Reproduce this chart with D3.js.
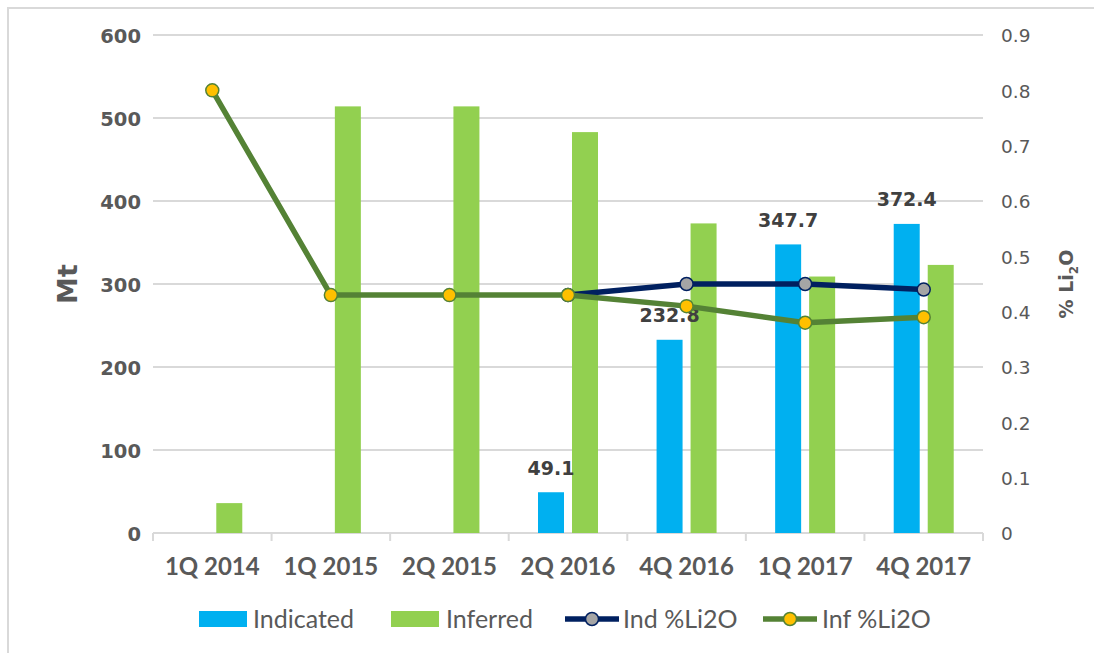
<!DOCTYPE html>
<html><head><meta charset="utf-8">
<script src="https://cdn.jsdelivr.net/npm/d3@7"></script>
<style>body{margin:0;background:#fff}svg{display:block}</style></head>
<body>
<svg id="c" width="1094" height="653"></svg>
<script>
const categories = ["1Q 2014","1Q 2015","2Q 2015","2Q 2016","4Q 2016","1Q 2017","4Q 2017"];
const indicated = [null, null, null, 49.1, 232.8, 347.7, 372.4];
const inferred = [36, 514, 514, 483, 373, 309, 323];
const indLi2O = [null, null, null, 0.43, 0.45, 0.45, 0.44];
const infLi2O = [0.80, 0.43, 0.43, 0.43, 0.41, 0.38, 0.39];
const leftTicks = [0, 100, 200, 300, 400, 500, 600];
const rightTicks = [0, 0.1, 0.2, 0.3, 0.4, 0.5, 0.6, 0.7, 0.8, 0.9];
const rightTickLabels = ["0", "0.1", "0.2", "0.3", "0.4", "0.5", "0.6", "0.7", "0.8", "0.9"];
const legendLabels = ["Indicated", "Inferred", "Ind %Li2O", "Inf %Li2O"];

const C = {ind:"#00B0F0", inf:"#92D050", indLine:"#002060", indMk:"#A5A5A5", infLine:"#548235", infMk:"#FFC000", txt:"#595959", grid:"#D9D9D9"};
const svg = d3.select("#c");
const X0 = 153, X1 = 983, Y0 = 533, Y1 = 35;
const x = d3.scaleBand().domain(categories).range([X0, X1]);
const y = d3.scaleLinear().domain([0, 600]).range([Y0, Y1]);
const y2 = d3.scaleLinear().domain([0, 0.9]).range([Y0, Y1]);
const bw = 26, gap = 4;

// frame (only left/top visible)
svg.append("rect").attr("x", 8).attr("y", 8).attr("width", 1200).attr("height", 800)
  .attr("fill", "none").attr("stroke", "#D9D9D9").attr("stroke-width", 2);

// gridlines
svg.append("g").selectAll("line").data(leftTicks.filter(d => d > 0)).join("line")
  .attr("x1", X0).attr("x2", X1).attr("y1", d => y(d)).attr("y2", d => y(d))
  .attr("stroke", C.grid).attr("stroke-width", 2);

// left axis
const gl = svg.append("g").attr("transform", `translate(${X0 - 12},0)`)
  .call(d3.axisLeft(y).tickValues(leftTicks).tickSize(0).tickPadding(0));
gl.select(".domain").remove();
gl.selectAll("text").attr("font-family", "DejaVu Sans").attr("font-weight", "bold")
  .attr("font-size", 19.5).attr("fill", C.txt).attr("dy", "0.36em");

// right axis
const gr = svg.append("g").attr("transform", `translate(${X1 + 18},0)`)
  .call(d3.axisRight(y2).tickValues(rightTicks).tickSize(0).tickPadding(0)
    .tickFormat((d, i) => rightTickLabels[i]));
gr.select(".domain").remove();
gr.selectAll("text").attr("font-family", "DejaVu Sans").attr("font-size", 18.5)
  .attr("fill", C.txt).attr("dy", "0.36em");

// x axis
svg.append("line").attr("x1", X0).attr("x2", X1).attr("y1", Y0).attr("y2", Y0)
  .attr("stroke", C.grid).attr("stroke-width", 2);
const bounds = categories.map(c => x(c)).concat([X1]);
svg.append("g").selectAll("line").data(bounds).join("line")
  .attr("x1", d => d).attr("x2", d => d).attr("y1", Y0).attr("y2", Y0 + 8)
  .attr("stroke", C.grid).attr("stroke-width", 2);
const gx = svg.append("g").attr("transform", `translate(0,${Y0})`)
  .call(d3.axisBottom(x).tickSize(0).tickPadding(0));
gx.select(".domain").remove();
gx.selectAll("text").attr("font-family", "Lato").attr("font-weight", "bold")
  .attr("font-size", 24).attr("fill", C.txt).attr("dy", "1.75em");

// bars
const cx = c => x(c) + x.bandwidth() / 2;
svg.append("g").selectAll("rect").data(categories.map((c, i) => ({c, v: indicated[i]})).filter(d => d.v != null))
  .join("rect").attr("x", d => cx(d.c) - gap - bw).attr("width", bw)
  .attr("y", d => y(d.v)).attr("height", d => Y0 - y(d.v)).attr("fill", C.ind);
svg.append("g").selectAll("rect").data(categories.map((c, i) => ({c, v: inferred[i]})))
  .join("rect").attr("x", d => cx(d.c) + gap).attr("width", bw)
  .attr("y", d => y(d.v)).attr("height", d => Y0 - y(d.v)).attr("fill", C.inf);

// data labels
svg.append("g").selectAll("text").data(categories.map((c, i) => ({c, v: indicated[i]})).filter(d => d.v != null))
  .join("text").attr("x", d => cx(d.c) - gap - bw / 2).attr("y", d => y(d.v) - 17.5)
  .attr("text-anchor", "middle").attr("font-family", "DejaVu Sans").attr("font-weight", "bold")
  .attr("font-size", 19).attr("fill", "#404040").text(d => d.v.toFixed(1));

// lines
function drawLine(vals, lc, mc) {
  const pts = categories.map((c, i) => ({c, v: vals[i]}));
  const line = d3.line().defined(d => d.v != null).x(d => cx(d.c)).y(d => y2(d.v));
  svg.append("path").datum(pts).attr("d", line).attr("fill", "none")
    .attr("stroke", lc).attr("stroke-width", 5.5).attr("stroke-linejoin", "round");
  svg.append("g").selectAll("circle").data(pts.filter(d => d.v != null)).join("circle")
    .attr("cx", d => cx(d.c)).attr("cy", d => y2(d.v)).attr("r", 6.5)
    .attr("fill", mc).attr("stroke", lc).attr("stroke-width", 1.5);
}
drawLine(indLi2O, C.indLine, C.indMk);
drawLine(infLi2O, C.infLine, C.infMk);

// axis titles
svg.append("text").attr("transform", "translate(77,284) rotate(-90)").attr("text-anchor", "middle")
  .attr("font-family", "DejaVu Sans").attr("font-weight", "bold").attr("font-size", 27)
  .attr("fill", C.txt).text("Mt");
const t2 = svg.append("text").attr("transform", "translate(1073,284) rotate(-90)").attr("text-anchor", "middle")
  .attr("font-family", "DejaVu Sans").attr("font-weight", "bold").attr("font-size", 19).attr("fill", C.txt);
t2.append("tspan").text("% Li");
t2.append("tspan").attr("font-size", 12).attr("dy", 5).text("2");
t2.append("tspan").attr("dy", -5).text("O");

// legend
const LY = 619;
const lg = svg.append("g").attr("font-family", "Lato").attr("font-size", 25).attr("fill", C.txt);
const items = [
  {type: "rect", color: C.ind, x: 199, tx: 253},
  {type: "rect", color: C.inf, x: 391, tx: 446},
  {type: "line", color: C.indLine, mk: C.indMk, x: 565, tx: 623},
  {type: "line", color: C.infLine, mk: C.infMk, x: 763, tx: 822}
];
items.forEach((it, i) => {
  if (it.type === "rect") {
    lg.append("rect").attr("x", it.x).attr("y", LY - 8).attr("width", 48).attr("height", 16).attr("fill", it.color);
  } else {
    lg.append("line").attr("x1", it.x).attr("x2", it.x + 54).attr("y1", LY).attr("y2", LY)
      .attr("stroke", it.color).attr("stroke-width", 5.5);
    lg.append("circle").attr("cx", it.x + 27).attr("cy", LY).attr("r", 6.5)
      .attr("fill", it.mk).attr("stroke", it.color).attr("stroke-width", 1.5);
  }
  lg.append("text").attr("x", it.tx).attr("y", LY).attr("dy", "0.36em").text(legendLabels[i]);
});
</script>
</body></html>
